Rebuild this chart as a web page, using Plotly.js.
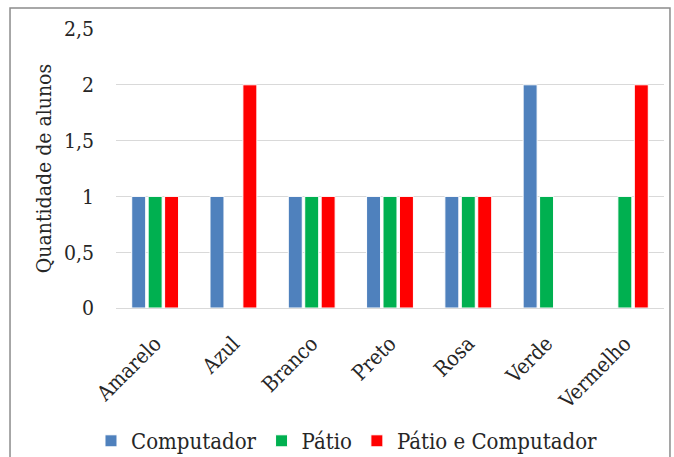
<!DOCTYPE html>
<html><head><meta charset="utf-8">
<script src="https://cdn.plot.ly/plotly-3.0.1.min.js"></script>
<style>html,body{margin:0;padding:0;background:#fff;}#chart{width:674px;height:457px;}</style>
</head><body><div id="chart"></div>
<script>
const categories = ["Amarelo","Azul","Branco","Preto","Rosa","Verde","Vermelho"];
const computador = [1,1,1,1,1,2,0];
const patio = [1,0,1,1,1,1,1];
const patioComputador = [1,2,1,1,1,0,2];
const seriesNames = ["Computador","Pátio","Pátio e Computador"];
const colors = ["#4F81BD","#00B050","#FF0000"];
const yTicks = [0,0.5,1,1.5,2,2.5];

const FONT = "'DejaVu Serif Condensed', 'DejaVu Serif', serif";
const series = [computador, patio, patioComputador];
const traces = series.map((vals,i)=>({
  type:'bar', x:categories, y:vals, name:seriesNames[i],
  marker:{color:colors[i], line:{color:'#ffffff', width:1}},
  hoverinfo:'skip'
}));

const layout = {
  width:674, height:457,
  margin:{l:116, r:10, t:29, b:149, autoexpand:false},
  paper_bgcolor:'#fff', plot_bgcolor:'#fff',
  separators:', ',
  font:{family:FONT, size:21, color:'#262626'},
  barmode:'group', bargap:0.37, bargroupgap:0.15,
  xaxis:{
    type:'category', tickangle:-45, showgrid:false, automargin:false,
    showline:true, linecolor:'#d9d9d9', linewidth:1,
    ticks:'', ticklabelstandoff:14,
    tickfont:{family:FONT, size:21, color:'#262626'}
  },
  yaxis:{
    range:[0,2.5], tickvals:yTicks, ticktext:yTicks.map(v=>String(v).replace('.',',')),
    showgrid:true, gridcolor:'#d9d9d9', gridwidth:1, zeroline:false, automargin:false,
    showline:false, ticks:'', ticklabelstandoff:21,
    tickfont:{family:FONT, size:21, color:'#262626'},
    title:{text:'Quantidade de alunos', font:{family:FONT, size:21, color:'#262626'}, standoff:6}
  },
  showlegend:true,
  legend:{orientation:'h', xref:'container', yref:'container', x:0.135, xanchor:'left', y:0.035, yanchor:'middle',
    font:{family:FONT, size:22, color:'#262626'}, bgcolor:'rgba(0,0,0,0)'},
  shapes:[{type:'rect', xref:'paper', yref:'paper', x0:-0.1934, x1:1.0109, y0:-0.56, y1:1.0753,
    line:{color:'#8c8c8c', width:1.5}, fillcolor:'rgba(0,0,0,0)', layer:'below'}]
};
Plotly.newPlot('chart', traces, layout, {displayModeBar:false, staticPlot:true});
</script></body></html>
